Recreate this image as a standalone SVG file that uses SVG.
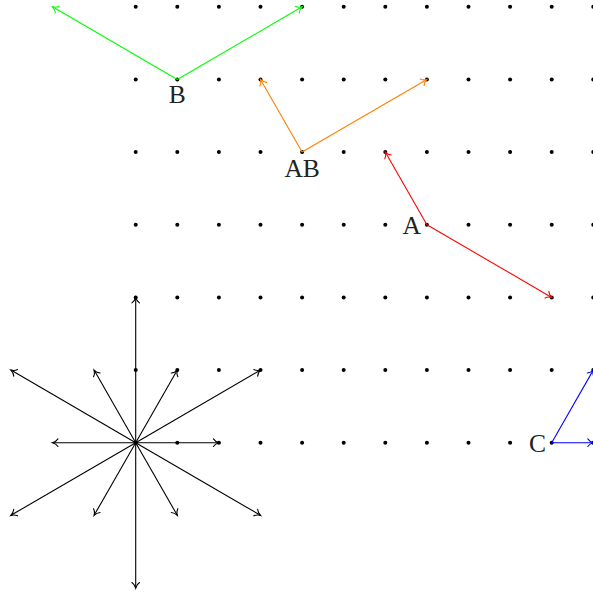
<svg xmlns="http://www.w3.org/2000/svg" xmlns:xlink="http://www.w3.org/1999/xlink" width="593" height="594" viewBox="0 0 593 594">
<style>
.dot{fill:#000}
.lbl{font-family:"Liberation Serif","Times New Roman",serif;font-size:25.5px;fill:#222}
.v{fill:none;stroke-width:1.1}
.g{stroke:#00ff00}
.o{stroke:#ff8000}
.r{stroke:#ff0000}
.b{stroke:#0000ff}
.k{stroke:#000}
</style>
<defs>
<marker id="mg" markerUnits="userSpaceOnUse" orient="auto" markerWidth="12" markerHeight="12" refX="0" refY="0" viewBox="-8 -6 10 12" overflow="visible"><path d="M-5.5,-3.8 C-4,-1.6 -1.5,-0.4 0,0 C-1.5,0.4 -4,1.6 -5.5,3.8" fill="none" stroke="#00ff00" stroke-width="1.1" stroke-linecap="round"/></marker>
<marker id="mo" markerUnits="userSpaceOnUse" orient="auto" markerWidth="12" markerHeight="12" refX="0" refY="0" viewBox="-8 -6 10 12" overflow="visible"><path d="M-5.5,-3.8 C-4,-1.6 -1.5,-0.4 0,0 C-1.5,0.4 -4,1.6 -5.5,3.8" fill="none" stroke="#ff8000" stroke-width="1.1" stroke-linecap="round"/></marker>
<marker id="mr" markerUnits="userSpaceOnUse" orient="auto" markerWidth="12" markerHeight="12" refX="0" refY="0" viewBox="-8 -6 10 12" overflow="visible"><path d="M-5.5,-3.8 C-4,-1.6 -1.5,-0.4 0,0 C-1.5,0.4 -4,1.6 -5.5,3.8" fill="none" stroke="#ff0000" stroke-width="1.1" stroke-linecap="round"/></marker>
<marker id="mb" markerUnits="userSpaceOnUse" orient="auto" markerWidth="12" markerHeight="12" refX="0" refY="0" viewBox="-8 -6 10 12" overflow="visible"><path d="M-5.5,-3.8 C-4,-1.6 -1.5,-0.4 0,0 C-1.5,0.4 -4,1.6 -5.5,3.8" fill="none" stroke="#0000ff" stroke-width="1.1" stroke-linecap="round"/></marker>
<marker id="mk" markerUnits="userSpaceOnUse" orient="auto" markerWidth="12" markerHeight="12" refX="0" refY="0" viewBox="-8 -6 10 12" overflow="visible"><path d="M-5.5,-3.8 C-4,-1.6 -1.5,-0.4 0,0 C-1.5,0.4 -4,1.6 -5.5,3.8" fill="none" stroke="#000" stroke-width="1.1" stroke-linecap="round"/></marker>
<g id="row">
<circle class="dot" cx="135.7" cy="6.8" r="2"/><circle class="dot" cx="177.3" cy="6.8" r="2"/><circle class="dot" cx="218.9" cy="6.8" r="2"/><circle class="dot" cx="260.5" cy="6.8" r="2"/><circle class="dot" cx="302.1" cy="6.8" r="2"/><circle class="dot" cx="343.7" cy="6.8" r="2"/><circle class="dot" cx="385.3" cy="6.8" r="2"/><circle class="dot" cx="426.9" cy="6.8" r="2"/><circle class="dot" cx="468.5" cy="6.8" r="2"/><circle class="dot" cx="510.1" cy="6.8" r="2"/><circle class="dot" cx="551.7" cy="6.8" r="2"/><circle class="dot" cx="593.3" cy="6.8" r="2"/>
</g>
</defs>
<g id="grid">
<use xlink:href="#row"/>
<use xlink:href="#row" transform="translate(0,72.65)"/>
<use xlink:href="#row" transform="translate(0,145.3)"/>
<use xlink:href="#row" transform="translate(0,217.95)"/>
<use xlink:href="#row" transform="translate(0,290.6)"/>
<use xlink:href="#row" transform="translate(0,363.25)"/>
<use xlink:href="#row" transform="translate(0,435.9)"/>
</g>
<g id="connectors">
<line class="v g" x1="177.3" y1="79.45" x2="52.5" y2="6.8" marker-end="url(#mg)"/>
<line class="v g" x1="177.3" y1="79.45" x2="302.1" y2="6.8" marker-end="url(#mg)"/>
<line class="v o" x1="302.1" y1="152.1" x2="260.5" y2="79.45" marker-end="url(#mo)"/>
<line class="v o" x1="302.1" y1="152.1" x2="426.9" y2="79.45" marker-end="url(#mo)"/>
<line class="v r" x1="426.9" y1="224.75" x2="385.3" y2="152.1" marker-end="url(#mr)"/>
<line class="v r" x1="426.9" y1="224.75" x2="551.7" y2="297.4" marker-end="url(#mr)"/>
<line class="v b" x1="551.7" y1="442.7" x2="593.3" y2="370.05" marker-end="url(#mb)"/>
<line class="v b" x1="551.7" y1="442.7" x2="593.3" y2="442.7" marker-end="url(#mb)"/>
<g id="star">
<line class="v k" x1="135.7" y1="442.7" x2="135.7" y2="297.4" marker-end="url(#mk)"/>
<line class="v k" x1="135.7" y1="442.7" x2="135.7" y2="588" marker-end="url(#mk)"/>
<line class="v k" x1="135.7" y1="442.7" x2="52.5" y2="442.7" marker-end="url(#mk)"/>
<line class="v k" x1="135.7" y1="442.7" x2="218.9" y2="442.7" marker-end="url(#mk)"/>
<line class="v k" x1="135.7" y1="442.7" x2="260.5" y2="370.05" marker-end="url(#mk)"/>
<line class="v k" x1="135.7" y1="442.7" x2="10.9" y2="370.05" marker-end="url(#mk)"/>
<line class="v k" x1="135.7" y1="442.7" x2="10.9" y2="515.35" marker-end="url(#mk)"/>
<line class="v k" x1="135.7" y1="442.7" x2="260.5" y2="515.35" marker-end="url(#mk)"/>
<line class="v k" x1="135.7" y1="442.7" x2="177.3" y2="370.05" marker-end="url(#mk)"/>
<line class="v k" x1="135.7" y1="442.7" x2="94.1" y2="370.05" marker-end="url(#mk)"/>
<line class="v k" x1="135.7" y1="442.7" x2="94.1" y2="515.35" marker-end="url(#mk)"/>
<line class="v k" x1="135.7" y1="442.7" x2="177.3" y2="515.35" marker-end="url(#mk)"/>
</g>
</g>
<g id="B"><text class="lbl" x="177.3" y="103" text-anchor="middle">B</text></g>
<g id="AB"><text class="lbl" x="302.1" y="177" text-anchor="middle">AB</text></g>
<g id="A"><text class="lbl" x="421" y="233.5" text-anchor="end">A</text></g>
<g id="C"><text class="lbl" x="546" y="451.5" text-anchor="end">C</text></g>
</svg>
